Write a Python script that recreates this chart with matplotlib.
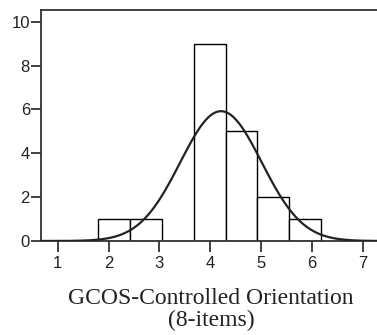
import numpy as np
import matplotlib
matplotlib.use('Agg')
import matplotlib.pyplot as plt

# Histograma de la escala con curva normal ajustada
bin_edges = [1.8, 2.425, 3.05, 3.675, 4.3, 4.925, 5.55, 6.175]
counts = [1, 1, 0, 9, 5, 2, 1]
media = 4.21
desv = 0.80
n_total = sum(counts)
bin_width = bin_edges[1] - bin_edges[0]

fig = plt.figure(figsize=(3.77, 3.35), dpi=100)
ax = fig.add_axes([0.1088, 0.2806, 0.8912 + 0.01, 0.6884])

lefts = bin_edges[:-1]
ax.bar(lefts, counts, width=bin_width, align='edge',
       facecolor='white', edgecolor='black', linewidth=1.0, zorder=2)

xs = np.linspace(0.6, 7.4, 400)
ys = n_total * bin_width / (desv * np.sqrt(2 * np.pi)) * np.exp(-0.5 * ((xs - media) / desv) ** 2)
ax.plot(xs, ys, color='#222222', linewidth=1.6, zorder=3)

ax.set_xlim(0.673, 7.35)
ax.set_ylim(0, 10.52)
ax.set_xticks(range(1, 8))
ax.set_yticks([0, 2, 4, 6, 8, 10])

for side in ['left', 'top', 'bottom']:
    ax.spines[side].set_linewidth(1.3)
    ax.spines[side].set_color('#333333')
ax.spines['right'].set_visible(False)

ax.tick_params(axis='both', direction='out', length=7, width=1.3,
               color='#333333', labelsize=12, pad=1,
               labelfontfamily='Liberation Sans', labelcolor='#222222')
ax.tick_params(axis='x', pad=3, length=8)

ax.set_xlabel('GCOS-Controlled Orientation\n(8-items)',
              fontfamily='Liberation Serif', fontsize=17, labelpad=12,
              linespacing=1.05, color='#222222')

fig.savefig('out.png', dpi=100)
